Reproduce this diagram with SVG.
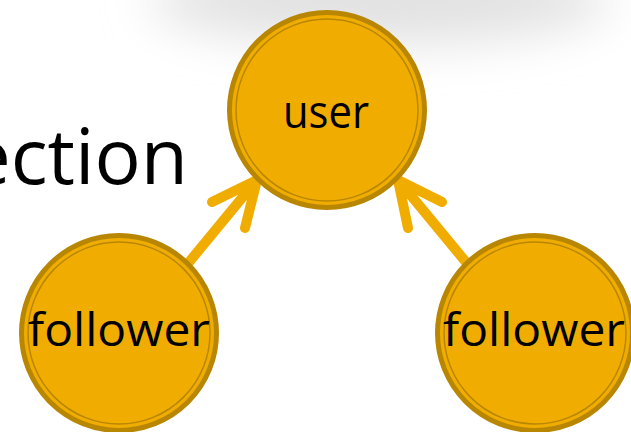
<svg xmlns="http://www.w3.org/2000/svg" width="631" height="432" viewBox="0 0 631 432">
<defs>
<filter id="blur" x="-50%" y="-150%" width="200%" height="400%"><feGaussianBlur stdDeviation="24"/></filter>
<style>
.ring{fill:#F0AD00;stroke:#B88600;stroke-width:5}
.inner{fill:none;stroke:#B88600;stroke-width:1.5}
.lbl{font-family:"Open Sans","Noto Sans",sans-serif;font-size:46px;fill:#000;text-anchor:middle}
.arr{fill:none;stroke:#F0AD00;stroke-width:10;stroke-linecap:round;stroke-linejoin:round}
</style>
</defs>
<rect width="631" height="432" fill="#fff"/>
<ellipse cx="380" cy="0" rx="230" ry="45" fill="#e2e2e2" filter="url(#blur)"/>
<text x="188" y="184" style="font-family:'Open Sans','Noto Sans',sans-serif;font-size:77px;fill:#000;text-anchor:end">ection</text>
<g id="connectors">
<path class="arr" d="M185,267 L256,181 M212,202 L257,180 L245,228"/>
<path class="arr" d="M470,267 L399,181 M442,202 L398,180 L408,228"/>
</g>
<g id="user">
<circle class="ring" cx="327" cy="110" r="97.5"/>
<circle class="inner" cx="327" cy="110" r="91"/>
<text class="lbl" x="326" y="128" textLength="86" lengthAdjust="spacingAndGlyphs">user</text>
</g>
<g id="follower1">
<circle class="ring" cx="119" cy="333" r="97.5"/>
<circle class="inner" cx="119" cy="333" r="91"/>
<text class="lbl" x="119" y="346" textLength="182" lengthAdjust="spacingAndGlyphs">follower</text>
</g>
<g id="follower2">
<circle class="ring" cx="535" cy="333" r="97.5"/>
<circle class="inner" cx="535" cy="333" r="91"/>
<text class="lbl" x="534" y="346" textLength="182" lengthAdjust="spacingAndGlyphs">follower</text>
</g>
</svg>
